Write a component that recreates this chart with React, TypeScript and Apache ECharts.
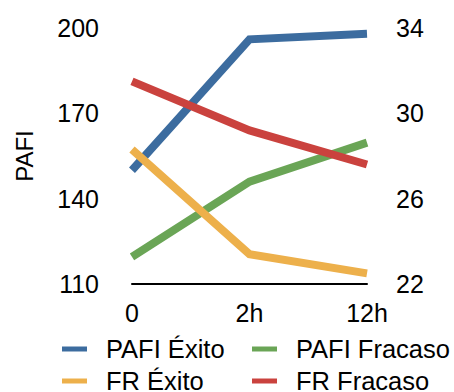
import React, { useEffect, useRef } from "react";
import * as echarts from "echarts";

const categories = ["0", "2h", "12h"];
const pafiExito = [150, 196, 198];
const pafiFracaso = [119.5, 146, 159.7];
const frExito = [28.3, 23.4, 22.5];
const frFracaso = [31.5, 29.2, 27.6];

const leftTicks = { min: 110, max: 200, interval: 30 };
const rightTicks = { min: 22, max: 34, interval: 4 };

const FONT = "'Liberation Sans', Arial, Helvetica, sans-serif";

const COLORS = {
  pafiExito: "#3c6c9f",
  pafiFracaso: "#6aa556",
  frExito: "#edb04b",
  frFracaso: "#ca423e",
};

export default function App() {
  const ref = useRef<HTMLDivElement>(null);

  useEffect(() => {
    if (!ref.current) return;
    const chart = echarts.init(ref.current, undefined, { renderer: "svg" });

    const lineSeries = (name: string, data: number[], color: string, yAxisIndex: number) => ({
      name,
      type: "line",
      data,
      yAxisIndex,
      symbol: "none",
      lineStyle: { color, width: 8, cap: "butt", join: "miter" },
      itemStyle: { color },
    });

    const legendItem = (name: string, left: number, top: number) => ({
      data: [name],
      left,
      top,
      orient: "horizontal",
      itemWidth: 25,
      itemHeight: 5,
      itemGap: 0,
      icon: "rect",
      padding: 0,
      textStyle: { fontFamily: FONT, fontSize: 25.5, color: "#000", padding: [0, 0, 0, 14] },
    });

    chart.setOption({
      animation: false,
      textStyle: { fontFamily: FONT },
      grid: { left: 132, right: 87, top: 28, bottom: 108 },
      xAxis: {
        type: "category",
        data: categories,
        boundaryGap: false,
        axisLine: { show: true, lineStyle: { color: "#000", width: 2 } },
        axisTick: { show: false },
        axisLabel: { color: "#000", fontSize: 25, fontFamily: FONT, margin: 16 },
        splitLine: { show: false },
      },
      yAxis: [
        {
          type: "value",
          ...leftTicks,
          position: "left",
          name: "PAFI",
          nameLocation: "middle",
          nameGap: 96,
          nameTextStyle: { color: "#000", fontSize: 24, fontFamily: FONT },
          axisLine: { show: false },
          axisTick: { show: false },
          splitLine: { show: false },
          axisLabel: { color: "#000", fontSize: 25, fontFamily: FONT, margin: 33 },
        },
        {
          type: "value",
          ...rightTicks,
          position: "right",
          axisLine: { show: false },
          axisTick: { show: false },
          splitLine: { show: false },
          axisLabel: { color: "#000", fontSize: 25, fontFamily: FONT, margin: 29 },
        },
      ],
      legend: [
        legendItem("PAFI Éxito", 62, 336),
        legendItem("PAFI Fracaso", 252, 336),
        legendItem("FR Éxito", 62, 368),
        legendItem("FR Fracaso", 252, 368),
      ],
      series: [
        lineSeries("PAFI Éxito", pafiExito, COLORS.pafiExito, 0),
        lineSeries("PAFI Fracaso", pafiFracaso, COLORS.pafiFracaso, 0),
        lineSeries("FR Éxito", frExito, COLORS.frExito, 1),
        lineSeries("FR Fracaso", frFracaso, COLORS.frFracaso, 1),
      ],
    });

    return () => chart.dispose();
  }, []);

  return (
    <div
      ref={ref}
      style={{ position: "fixed", left: 0, top: 0, width: 454, height: 392, background: "#fff" }}
    />
  );
}
